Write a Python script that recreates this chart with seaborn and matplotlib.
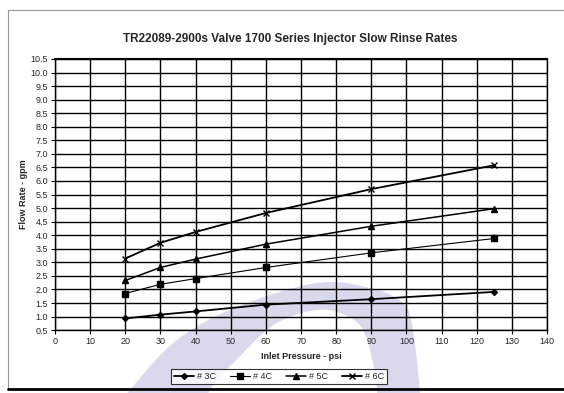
import matplotlib
matplotlib.use("Agg")
import matplotlib.pyplot as plt
import seaborn as sns
import pandas as pd
import numpy as np
from matplotlib.patches import Rectangle

pressure = [20, 30, 40, 60, 90, 125]
flow_3c = [0.93, 1.07, 1.19, 1.44, 1.64, 1.91]
flow_4c = [1.85, 2.19, 2.40, 2.81, 3.35, 3.88]
flow_5c = [2.33, 2.81, 3.12, 3.67, 4.33, 4.98]
flow_6c = [3.14, 3.72, 4.12, 4.82, 5.70, 6.58]
series_names = ["# 3C", "# 4C", "# 5C", "# 6C"]

rows = []
for name, vals in zip(series_names, [flow_3c, flow_4c, flow_5c, flow_6c]):
    for p, v in zip(pressure, vals):
        rows.append({"series": name, "pressure": p, "flow": v})
df = pd.DataFrame(rows)


def smooth(pts, n=20):
    """Catmull-Rom spline through a list of (x, y) points."""
    p = np.asarray(pts, float)
    p = np.vstack([p[0], p, p[-1]])
    out = []
    t = np.linspace(0, 1, n, endpoint=False)[:, None]
    for i in range(1, len(p) - 2):
        p0, p1, p2, p3 = p[i - 1], p[i], p[i + 1], p[i + 2]
        out.append(0.5 * ((2 * p1) + (-p0 + p2) * t
                          + (2 * p0 - 5 * p1 + 4 * p2 - p3) * t ** 2
                          + (-p0 + 3 * p1 - 3 * p2 + p3) * t ** 3))
    out.append(p[-2][None, :])
    return np.vstack(out)


sns.set_theme(style="white")
plt.rcParams["font.family"] = ["Liberation Sans", "DejaVu Sans"]

fig = plt.figure(figsize=(5.64, 3.93), dpi=100)
fig.patch.set_facecolor("white")

# faint crescent logo in the background, plus the outer chart frame
bg = fig.add_axes([0, 0, 1, 1], zorder=-5)
bg.set_xlim(0, 564)
bg.set_ylim(393, 0)
bg.axis("off")
outer = smooth([(110, 420), (130, 390), (177, 340), (237, 307), (317, 283),
                (370, 288), (403, 303), (413, 330), (420, 393), (422, 420)])
inner = smooth([(378, 420), (377, 390), (373, 363), (363, 330), (345, 315),
                (317, 310), (277, 323), (243, 353), (210, 390), (200, 420)])
crescent = np.vstack([outer, inner])
bg.fill(crescent[:, 0], crescent[:, 1], color="#d9d9ee", lw=0)
bg.add_patch(Rectangle((8, 10), 570, 379, fill=False, ec="#999999", lw=0.8))
bg.plot([8, 564], [389, 389], color="black", lw=2)

ax = fig.add_axes([0.0975, 0.160, 0.8725, 0.690])
ax.patch.set_alpha(0)

styles = {
    "# 3C": dict(marker="D", ms=3, lw=1.3),
    "# 4C": dict(marker="s", ms=4.5, lw=0.8),
    "# 5C": dict(marker="^", ms=4, lw=1.1),
    "# 6C": dict(marker="x", ms=4.5, lw=1.3),
}
for name in series_names:
    st = styles[name]
    sns.lineplot(data=df[df.series == name], x="pressure", y="flow", ax=ax,
                 color="black", linewidth=st["lw"], marker=st["marker"],
                 markersize=st["ms"], markeredgecolor="black",
                 markeredgewidth=1.0, label=name)

ax.set_xlim(0, 140)
ax.set_ylim(0.5, 10.5)
ax.set_xticks(range(0, 141, 10))
ax.set_yticks([0.5 + 0.5 * i for i in range(21)])
ax.set_yticklabels([f"{0.5 + 0.5 * i:.1f}" for i in range(21)])
ax.grid(True, color="black", linewidth=1.0)
ax.set_axisbelow(True)
for s in ax.spines.values():
    s.set_color("black")
    s.set_linewidth(1.0)
ax.spines["top"].set_linewidth(1.5)
ax.tick_params(axis="both", labelsize=6.5, length=3, width=0.8, color="black",
               direction="out", bottom=True, left=True, pad=2)

ax.set_xlabel("Inlet Pressure - psi", fontsize=6.5, fontweight="bold", labelpad=4)
ax.set_ylabel("Flow Rate - gpm", fontsize=6.5, fontweight="bold", labelpad=2)
fig.text(0.515, 0.90, "TR22089-2900s Valve 1700 Series Injector Slow Rinse Rates",
         ha="center", va="center", fontsize=8.5, fontweight="bold")

leg = ax.legend(loc="upper center", bbox_to_anchor=(0.455, -0.125), ncol=4,
                fontsize=6.5, frameon=True, fancybox=False, edgecolor="black",
                handlelength=2.2, columnspacing=1.6, handletextpad=0.3,
                borderpad=0.35)
leg.get_frame().set_linewidth(0.8)

fig.savefig("out.png", dpi=100, facecolor="white")
